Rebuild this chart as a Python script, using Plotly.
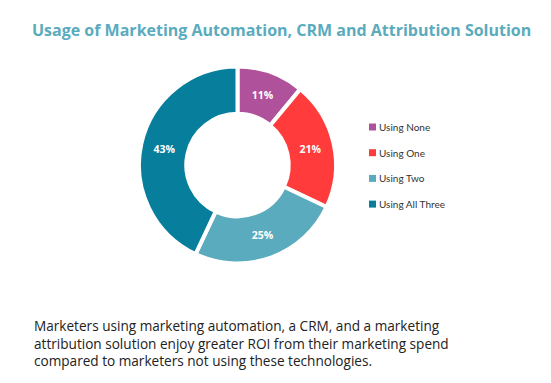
import plotly.graph_objects as go

labels = ["Using None", "Using One", "Using Two", "Using All Three"]
values = [11, 21, 25, 43]
colors = ["#B0519B", "#FF3B3B", "#5AABBD", "#067E9C"]
title = "Usage of Marketing Automation, CRM and Attribution Solution"
caption_lines = [
    "Marketers using marketing automation, a CRM, and a marketing",
    "attribution solution enjoy greater ROI from their marketing spend",
    "compared to marketers not using these technologies.",
]

W, H = 551, 383

fig = go.Figure(go.Pie(
    labels=labels, values=values, text=[f"{v}%" for v in values],
    textinfo="text", hole=0.52, sort=False, direction="clockwise", rotation=0,
    marker=dict(colors=colors, line=dict(color="white", width=4)),
    textfont=dict(family="Open Sans", size=10.5, color="white", weight="bold"),
    insidetextorientation="horizontal",
    domain=dict(x=[139 / W, 336 / W], y=[1 - 267 / H, 1 - 63 / H]),
    showlegend=False, hoverinfo="label+percent",
))

annotations = [dict(
    text=f"<b>{title}</b>", x=281 / W, y=1 - 30 / H, xref="paper", yref="paper",
    xanchor="center", yanchor="middle", showarrow=False,
    font=dict(family="Open Sans", size=16, color="#5AABBD"),
)]
shapes = []
for i, (lab, col) in enumerate(zip(labels, colors)):
    yc = 127 + i * 25.7
    shapes.append(dict(type="rect", xref="paper", yref="paper",
                       x0=369 / W, x1=376 / W, y0=1 - (yc + 3.5) / H, y1=1 - (yc - 3.5) / H,
                       fillcolor=col, line=dict(width=0)))
    annotations.append(dict(text=lab, x=377 / W, y=1 - yc / H, xref="paper", yref="paper",
                            xanchor="left", yanchor="middle", showarrow=False,
                            font=dict(family="Lato", size=10, color="#333333")))
annotations.append(dict(text="<br>".join(caption_lines), x=32 / W, y=1 - 342.5 / H,
                        xref="paper", yref="paper", xanchor="left", yanchor="middle",
                        align="left", showarrow=False,
                        font=dict(family="Open Sans", size=13.6, color="#222222")))

fig.update_layout(width=W, height=H, margin=dict(l=0, r=0, t=0, b=0),
                  paper_bgcolor="white", plot_bgcolor="white",
                  annotations=annotations, shapes=shapes)
fig.write_html("out.html")
